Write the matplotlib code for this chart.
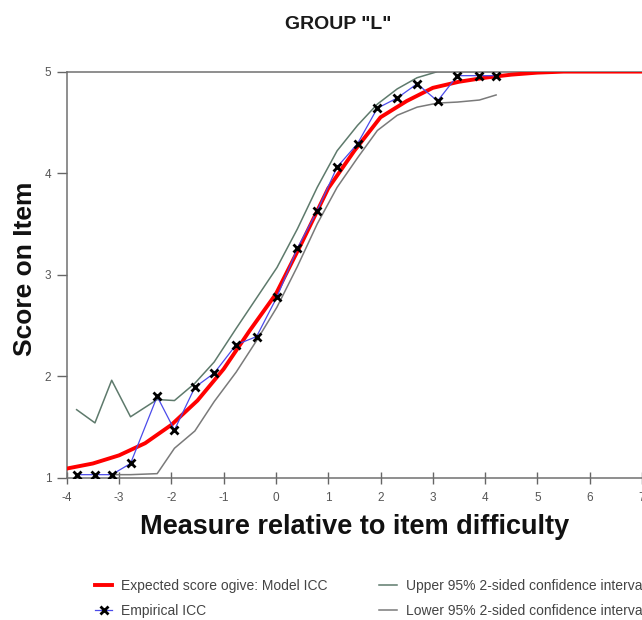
import matplotlib
matplotlib.use("Agg")
import matplotlib.pyplot as plt

plt.rcParams["font.family"] = ["Liberation Sans", "DejaVu Sans"]
plt.rcParams["axes.unicode_minus"] = False

# expected score ogive (model ICC)
model_x = [-4, -3.5, -3, -2.5, -2, -1.5, -1, -0.5, 0, 0.5, 1, 1.5, 2, 2.5, 3, 3.5, 4, 4.5, 5, 5.5, 6, 7, 8]
model_y = [1.09, 1.14, 1.22, 1.34, 1.52, 1.76, 2.07, 2.45, 2.81, 3.32, 3.85, 4.22, 4.55, 4.71, 4.84, 4.90,
           4.94, 4.97, 4.99, 5.0, 5.0, 5.0, 5.0]

# empirical ICC
emp_x = [-3.81, -3.46, -3.14, -2.78, -2.27, -1.94, -1.55, -1.18, -0.76, -0.37, 0.02, 0.41, 0.79, 1.17,
         1.56, 1.94, 2.32, 2.70, 3.09, 3.47, 3.89, 4.21]
emp_y = [1.03, 1.03, 1.03, 1.14, 1.80, 1.47, 1.89, 2.03, 2.31, 2.39, 2.78, 3.26, 3.63, 4.06,
         4.29, 4.64, 4.74, 4.88, 4.71, 4.96, 4.96, 4.96]

# 95% confidence bands
upper_y = [1.67, 1.54, 1.96, 1.60, 1.77, 1.76, 1.93, 2.14, 2.47, 2.77, 3.07, 3.45, 3.86, 4.22,
           4.47, 4.68, 4.83, 4.94, 5.0, 5.0, 5.0, 5.0]
lower_x = emp_x[2:]
lower_y = [1.03, 1.03, 1.04, 1.29, 1.46, 1.75, 2.04, 2.35, 2.68, 3.08, 3.50, 3.86,
           4.15, 4.42, 4.57, 4.65, 4.69, 4.70, 4.72, 4.77]

x_ticks = [-4, -3, -2, -1, 0, 1, 2, 3, 4, 5, 6, 7, 8]
y_ticks = [1, 2, 3, 4, 5]

fig = plt.figure(figsize=(6.42, 6.2), dpi=100)
ax = fig.add_axes([0.1039, 0.2295, 0.9776, 0.6550])

up_line, = ax.plot(emp_x, upper_y, color="#5e7a6c", lw=1.1,
                   label="Upper 95% 2-sided confidence interval")
low_line, = ax.plot(lower_x, lower_y, color="#7a7a7a", lw=1.1,
                    label="Lower 95% 2-sided confidence interval")
model_line, = ax.plot(model_x, model_y, color="#ff0000", lw=2.8,
                      label="Expected score ogive: Model ICC", zorder=3)
emp_line, = ax.plot(emp_x, emp_y, color="#4b4bea", lw=0.9, marker="x", markersize=5.5,
                    markeredgewidth=2, markeredgecolor="black", label="Empirical ICC", zorder=4)

ax.set_xlim(-4, 8)
ax.set_ylim(1, 5)
ax.set_xticks(x_ticks)
ax.set_yticks(y_ticks)
ax.tick_params(axis="x", direction="inout", length=9, width=1, colors="#666666",
               labelsize=8.5, labelcolor="#555555", pad=6)
ax.tick_params(axis="y", direction="out", length=7, width=1, colors="#666666",
               labelsize=8.5, labelcolor="#555555", pad=4)
for side in ["left", "bottom", "top", "right"]:
    ax.spines[side].set_color("#707070")
    ax.spines[side].set_linewidth(1.1)

fig.text(0.527, 0.960, 'GROUP "L"', ha="center", va="center", fontsize=14, fontweight="bold",
         color="#1a1a1a")
fig.text(0.039, 0.566, "Score on Item", ha="center", va="center", rotation=90, fontsize=19,
         fontweight="bold", color="#111111")
fig.text(0.553, 0.150, "Measure relative to item difficulty", ha="center", va="center",
         fontsize=19.5, fontweight="bold", color="#111111")

leg = fig.legend(handles=[model_line, emp_line, up_line, low_line], ncol=2,
                 loc="upper left", bbox_to_anchor=(0.148, 0.066), frameon=False,
                 fontsize=10, handlelength=1.25, handletextpad=0.65, columnspacing=3.7,
                 labelspacing=0.8, borderpad=0, borderaxespad=0)
for text in leg.get_texts():
    text.set_color("#444444")

fig.savefig("out.png", dpi=100)
